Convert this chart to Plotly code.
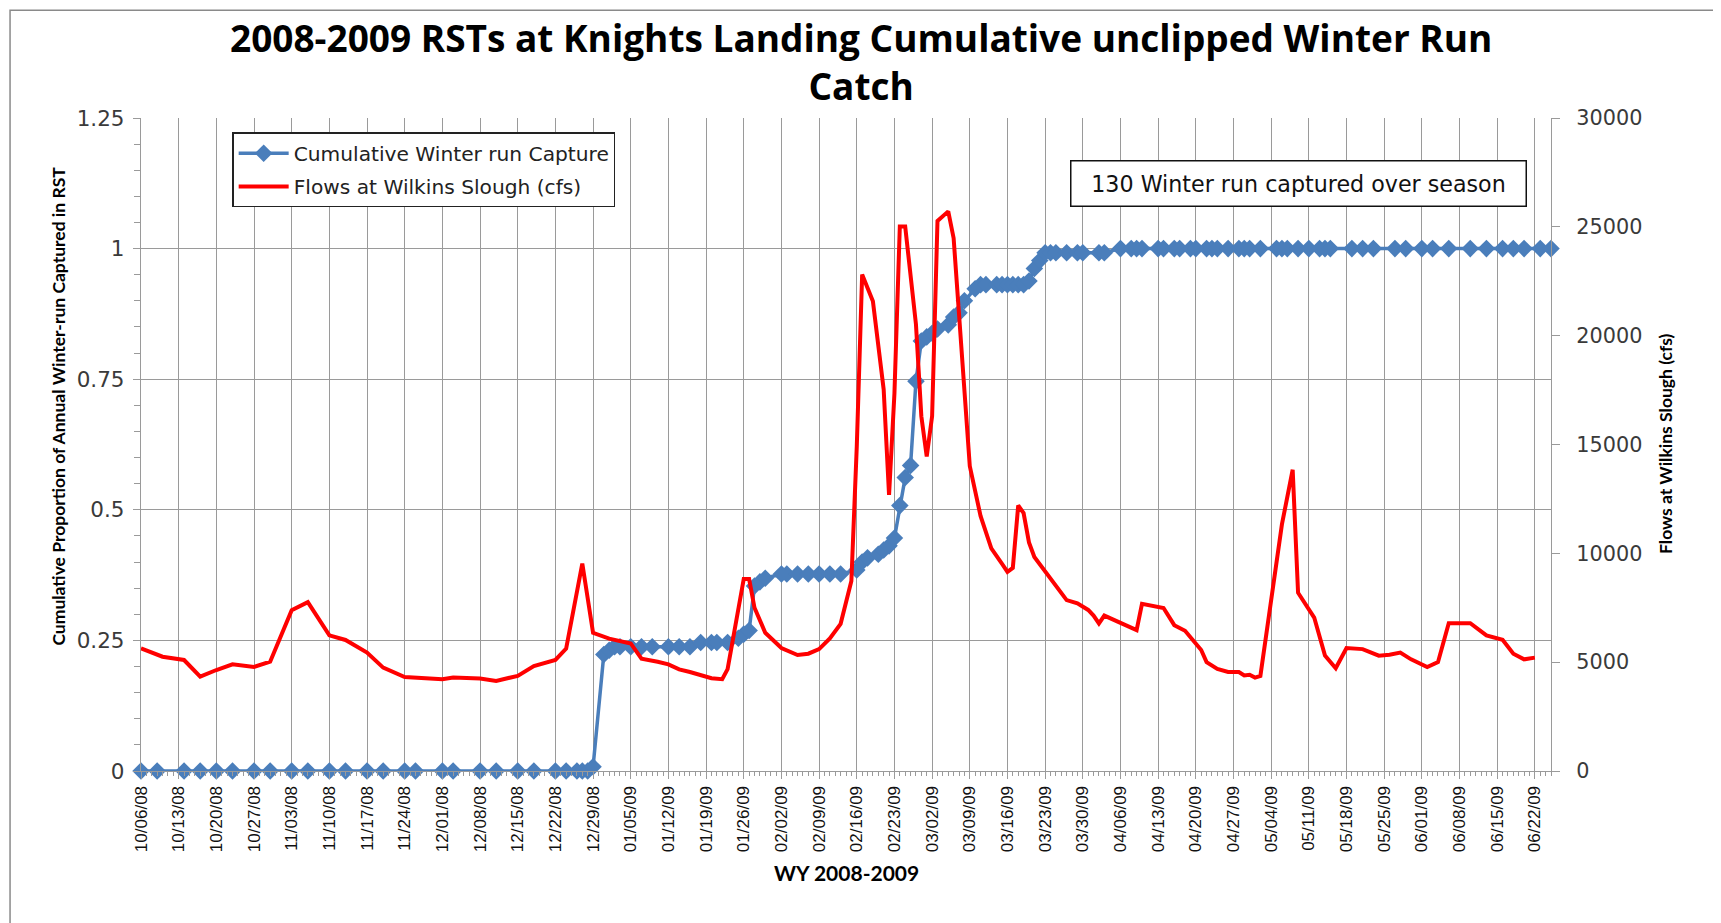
import plotly.graph_objects as go

# ---------------- data ----------------
capture_dates = [
    "2008-10-06", "2008-10-09", "2008-10-14", "2008-10-17", "2008-10-20", "2008-10-23",
    "2008-10-27", "2008-10-30", "2008-11-03", "2008-11-06", "2008-11-10", "2008-11-13",
    "2008-11-17", "2008-11-20", "2008-11-24", "2008-11-26", "2008-12-01", "2008-12-03",
    "2008-12-08", "2008-12-11", "2008-12-15", "2008-12-18", "2008-12-22", "2008-12-24",
    "2008-12-26", "2008-12-27", "2008-12-28", "2008-12-29", "2008-12-31", "2009-01-01",
    "2009-01-02", "2009-01-03", "2009-01-05", "2009-01-07", "2009-01-09", "2009-01-12",
    "2009-01-14", "2009-01-16", "2009-01-18", "2009-01-20", "2009-01-21", "2009-01-23",
    "2009-01-25", "2009-01-26", "2009-01-27", "2009-01-28", "2009-01-29", "2009-01-30",
    "2009-02-02", "2009-02-03", "2009-02-05", "2009-02-07", "2009-02-09", "2009-02-11",
    "2009-02-13", "2009-02-16", "2009-02-17", "2009-02-18", "2009-02-20", "2009-02-21",
    "2009-02-22", "2009-02-23", "2009-02-24", "2009-02-25", "2009-02-26", "2009-02-27",
    "2009-02-28", "2009-03-01", "2009-03-02", "2009-03-03", "2009-03-05", "2009-03-06",
    "2009-03-07", "2009-03-08", "2009-03-10", "2009-03-11", "2009-03-12", "2009-03-14",
    "2009-03-15", "2009-03-16", "2009-03-17", "2009-03-18", "2009-03-19", "2009-03-20",
    "2009-03-21", "2009-03-22", "2009-03-23", "2009-03-24", "2009-03-25", "2009-03-27",
    "2009-03-29", "2009-03-30", "2009-04-02", "2009-04-03", "2009-04-06", "2009-04-08",
    "2009-04-09", "2009-04-10", "2009-04-13", "2009-04-14", "2009-04-16", "2009-04-17",
    "2009-04-19", "2009-04-20", "2009-04-22", "2009-04-23", "2009-04-24", "2009-04-26",
    "2009-04-28", "2009-04-29", "2009-04-30", "2009-05-02", "2009-05-05", "2009-05-06",
    "2009-05-07", "2009-05-09", "2009-05-11", "2009-05-13", "2009-05-14", "2009-05-15",
    "2009-05-19", "2009-05-21", "2009-05-23", "2009-05-27", "2009-05-29", "2009-06-01",
    "2009-06-03", "2009-06-06", "2009-06-10", "2009-06-13", "2009-06-16", "2009-06-18",
    "2009-06-20", "2009-06-23", "2009-06-25",
]
capture_values = [
    0, 0, 0, 0, 0, 0,
    0, 0, 0, 0, 0, 0,
    0, 0, 0, 0, 0, 0,
    0, 0, 0, 0, 0, 0,
    0, 0, 0, 0.008, 0.223, 0.231,
    0.238, 0.238, 0.238, 0.238, 0.238, 0.238,
    0.238, 0.238, 0.246, 0.246, 0.246, 0.246,
    0.254, 0.262, 0.269, 0.354, 0.362, 0.369,
    0.377, 0.377, 0.377, 0.377, 0.377, 0.377,
    0.377, 0.385, 0.400, 0.408, 0.415, 0.423,
    0.431, 0.446, 0.508, 0.562, 0.585, 0.746,
    0.823, 0.831, 0.838, 0.846, 0.854, 0.869,
    0.877, 0.900, 0.923, 0.931, 0.931, 0.931,
    0.931, 0.931, 0.931, 0.931, 0.931, 0.938,
    0.962, 0.977, 0.992, 0.992, 0.992, 0.992,
    0.992, 0.992, 0.992, 0.992, 1, 1,
    1, 1, 1, 1, 1, 1,
    1, 1, 1, 1, 1, 1,
    1, 1, 1, 1, 1, 1,
    1, 1, 1, 1, 1, 1,
    1, 1, 1, 1, 1, 1,
    1, 1, 1, 1, 1, 1,
    1, 1, 1,
]

flow_dates = [
    "2008-10-06", "2008-10-10", "2008-10-14", "2008-10-17", "2008-10-20", "2008-10-23",
    "2008-10-27", "2008-10-30", "2008-11-03", "2008-11-06", "2008-11-10", "2008-11-13",
    "2008-11-17", "2008-11-20", "2008-11-24", "2008-11-27", "2008-12-01", "2008-12-03",
    "2008-12-08", "2008-12-11", "2008-12-15", "2008-12-18", "2008-12-22", "2008-12-24",
    "2008-12-27", "2008-12-29", "2009-01-01", "2009-01-05", "2009-01-07", "2009-01-10",
    "2009-01-12", "2009-01-14", "2009-01-16", "2009-01-20", "2009-01-22", "2009-01-23",
    "2009-01-26", "2009-01-27", "2009-01-28", "2009-01-30", "2009-02-02", "2009-02-05",
    "2009-02-07", "2009-02-09", "2009-02-11", "2009-02-13", "2009-02-15", "2009-02-16",
    "2009-02-17", "2009-02-19", "2009-02-21", "2009-02-22", "2009-02-23", "2009-02-24",
    "2009-02-25", "2009-02-27", "2009-02-28", "2009-03-01", "2009-03-02", "2009-03-03",
    "2009-03-05", "2009-03-06", "2009-03-07", "2009-03-09", "2009-03-11", "2009-03-13",
    "2009-03-15", "2009-03-16", "2009-03-17", "2009-03-18", "2009-03-19", "2009-03-20",
    "2009-03-21", "2009-03-23", "2009-03-24", "2009-03-27", "2009-03-29", "2009-03-31",
    "2009-04-01", "2009-04-02", "2009-04-03", "2009-04-06", "2009-04-08", "2009-04-09",
    "2009-04-10", "2009-04-14", "2009-04-16", "2009-04-18", "2009-04-21", "2009-04-22",
    "2009-04-24", "2009-04-26", "2009-04-28", "2009-04-29", "2009-04-30", "2009-05-01",
    "2009-05-02", "2009-05-04", "2009-05-06", "2009-05-08", "2009-05-09", "2009-05-12",
    "2009-05-14", "2009-05-16", "2009-05-18", "2009-05-21", "2009-05-24", "2009-05-26",
    "2009-05-28", "2009-05-30", "2009-06-02", "2009-06-04", "2009-06-06", "2009-06-10",
    "2009-06-13", "2009-06-16", "2009-06-18", "2009-06-20", "2009-06-22",
]
flow_values = [
    5640, 5250, 5100, 4340, 4640, 4900,
    4780, 5020, 7390, 7760, 6230, 6020,
    5440, 4750, 4320, 4290, 4220, 4290,
    4250, 4140, 4370, 4820, 5100, 5620,
    9530, 6350, 6080, 5860, 5160, 5020,
    4900, 4670, 4550, 4260, 4220, 4680,
    8820, 8820, 7500, 6350, 5650, 5330,
    5390, 5600, 6090, 6760, 8730, 14890,
    22810, 21580, 17530, 12690, 17350, 25010,
    25010, 20520, 16300, 14450, 16300, 25270,
    25710, 24480, 20870, 14010, 11720, 10230,
    9520, 9150, 9330, 12200, 11850, 10500,
    9830, 9170, 8900, 7850, 7700, 7400,
    7140, 6780, 7140, 6800, 6580, 6470,
    7680, 7490, 6700, 6440, 5560, 5000,
    4690, 4550, 4550, 4390, 4420, 4290,
    4370, 7840, 11330, 13840, 8190, 7050,
    5300, 4720, 5650, 5600, 5300, 5340,
    5440, 5130, 4780, 5000, 6790, 6790,
    6230, 6030, 5390, 5130, 5210,
]

title_lines = ["2008-2009 RSTs at Knights Landing Cumulative unclipped Winter Run", "Catch"]
capture_name = "Cumulative Winter run Capture"
flow_name = "Flows at Wilkins Slough (cfs)"
note_text = "130 Winter run captured over season"
y_title = "Cumulative Proportion of Annual Winter-run Captured in RST"
y2_title = "Flows at Wilkins Slough (cfs)"
x_title = "WY 2008-2009"

# ---------------- layout geometry ----------------
# The page body has an 8px margin, so page coordinates = figure coordinates + 8.
OFF = 8
W, H = 1721 - OFF, 923 - OFF
PLOT_L, PLOT_R, PLOT_T, PLOT_B = 140.5, 1551, 117.5, 771.5   # page pixels
ML = PLOT_L - OFF
MT = PLOT_T - OFF
MR = W - (PLOT_R - OFF)
MB = H - (PLOT_B - OFF)
PW, PH = PLOT_R - PLOT_L, PLOT_B - PLOT_T


def px(x):
    return (x - PLOT_L) / PW


def py(y):
    return (PLOT_B - y) / PH


BLUE = "#4a7ebb"
RED = "#ff0000"
GRID = "#9a9a9a"
LABEL = "#3a3a3a"

fig = go.Figure()
fig.add_trace(go.Scatter(
    x=capture_dates, y=capture_values, name=capture_name, mode="lines+markers",
    line=dict(color=BLUE, width=3.5), marker=dict(symbol="diamond", size=13.5, color=BLUE),
    cliponaxis=False, yaxis="y", legendgroup="a",
))
fig.add_trace(go.Scatter(
    x=flow_dates, y=flow_values, name=flow_name, mode="lines",
    line=dict(color=RED, width=4), yaxis="y2", legendgroup="b",
))

fig.update_layout(
    width=W, height=H, autosize=False,
    margin=dict(l=ML, r=MR, t=MT, b=MB, pad=0),
    paper_bgcolor="white", plot_bgcolor="white",
    showlegend=True,
    legend=dict(
        x=px(232), y=py(132), xanchor="left", yanchor="top",
        bgcolor="white", bordercolor="#222222", borderwidth=1.2,
        font=dict(family="DejaVu Sans", size=20.2, color="#222222"),
        tracegroupgap=4, itemwidth=50,
    ),
    xaxis=dict(
        type="date", range=["2008-10-06", "2009-06-25"],
        tick0="2008-10-06", dtick=7 * 86400000, tickformat="%m/%d/%y",
        tickangle=-90, tickfont=dict(family="Liberation Sans", size=17, color="#111111"),
        showgrid=True, gridcolor=GRID, gridwidth=1.3,
        showline=True, linecolor=GRID, linewidth=1.3,
        ticks="outside", ticklen=7, tickcolor=GRID,
        minor=dict(dtick=86400000, ticks="outside", ticklen=4, tickcolor=GRID, showgrid=False),
        zeroline=False,
    ),
    yaxis=dict(
        range=[0, 1.25], dtick=0.25, tick0=0,
        tickfont=dict(family="DejaVu Sans", size=21.5, color=LABEL),
        ticklabelstandoff=4,
        showgrid=True, gridcolor=GRID, gridwidth=1.3,
        showline=True, linecolor=GRID, linewidth=1.3,
        ticks="outside", ticklen=7, tickcolor=GRID,
        minor=dict(dtick=0.05, ticks="outside", ticklen=6, tickcolor=GRID, showgrid=False),
        zeroline=False,
    ),
    yaxis2=dict(
        range=[0, 30000], dtick=5000, tick0=0, overlaying="y", side="right",
        tickformat="d", ticklabelstandoff=12,
        tickfont=dict(family="DejaVu Sans", size=20.8, color=LABEL),
        showgrid=False, showline=True, linecolor=GRID, linewidth=1.3,
        ticks="outside", ticklen=8, tickcolor=GRID, zeroline=False,
    ),
)

annotations = [
    dict(text="<b>" + "<br>".join(title_lines) + "</b>", x=px(861), y=py(61),
         font=dict(family="Open Sans", size=37, color="black")),
    dict(text="<b>" + y_title + "</b>", x=px(58), y=py(406), textangle=-90,
         font=dict(family="Lato", size=17.5, color="black")),
    dict(text="<b>" + y2_title + "</b>", x=px(1665), y=py(444), textangle=-90,
         font=dict(family="Lato", size=17.5, color="black")),
    dict(text="<b>" + x_title + "</b>", x=px(846), y=py(873), font=dict(family="Lato", size=21, color="black")),
    dict(text=note_text, x=px(1298), y=py(183), width=450, height=40,
         bordercolor="#111111", borderwidth=1.5, bgcolor="white", borderpad=2,
         font=dict(family="DejaVu Sans", size=22.2, color="#111111")),
]
for a in annotations:
    a.update(xref="paper", yref="paper", showarrow=False, xanchor="center", yanchor="middle")
fig.update_layout(annotations=annotations)

fig.add_shape(type="rect", xref="paper", yref="paper",
              x0=px(9.5), x1=px(1715), y0=py(960), y1=py(9.5),
              line=dict(color="#8a8a8a", width=1.5), fillcolor="rgba(0,0,0,0)", layer="below")

fig.write_html("out.html")
